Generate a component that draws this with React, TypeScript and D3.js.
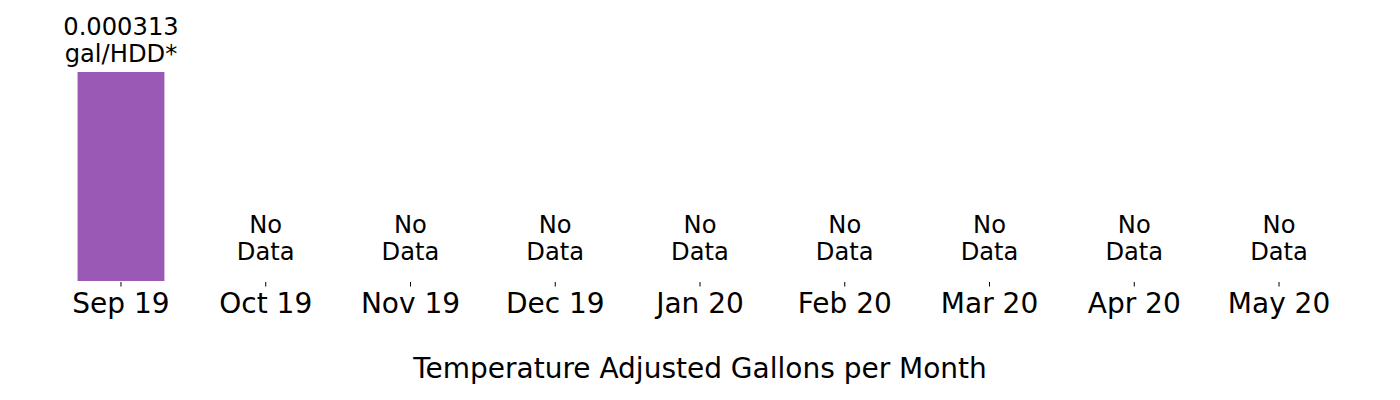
import { useRef, useEffect } from 'react'
import * as d3 from 'd3'

const MONTHS = ['Sep 19', 'Oct 19', 'Nov 19', 'Dec 19', 'Jan 20', 'Feb 20', 'Mar 20', 'Apr 20', 'May 20']
// null = no data for that month
const GALLONS_PER_HDD: (number | null)[] = [0.000313, null, null, null, null, null, null, null, null]
const UNIT = 'gal/HDD*'
const AXIS_TITLE = 'Temperature Adjusted Gallons per Month'

const BAR_COLOR = '#9b59b6'
const FONT = "'DejaVu Sans', sans-serif"

export default function App() {
  const svgRef = useRef<SVGSVGElement>(null)

  useEffect(() => {
    if (!svgRef.current) return
    const svg = d3.select(svgRef.current)
    svg.selectAll('*').remove()

    const width = 1400
    const height = 400

    const x = d3.scaleBand<string>()
      .domain(MONTHS)
      .range([48.6, 1351.4])
      .paddingInner(0.4)
      .paddingOuter(0.2)

    const maxVal = d3.max(GALLONS_PER_HDD, d => d ?? 0) ?? 1
    const y = d3.scaleLinear().domain([0, maxVal]).range([281, 72])

    const data = MONTHS.map((m, i) => ({ month: m, value: GALLONS_PER_HDD[i] }))

    // bars
    svg.selectAll('rect.bar')
      .data(data.filter(d => d.value != null))
      .join('rect')
      .attr('class', 'bar')
      .attr('x', d => x(d.month)!)
      .attr('width', x.bandwidth())
      .attr('y', d => y(d.value!))
      .attr('height', d => y(0) - y(d.value!))
      .attr('fill', BAR_COLOR)

    // value labels
    data.forEach(d => {
      const cx = x(d.month)! + x.bandwidth() / 2
      const lines = d.value != null ? [String(d.value), UNIT] : ['No', 'Data']
      const baseY = d.value != null ? y(d.value) - 10.5 : y(0) - 21
      const t = svg.append('text')
        .attr('text-anchor', 'middle')
        .style('font-family', FONT)
        .style('font-size', '24.2px')
        .style('fill', '#000')
      lines.forEach((ln, j) => {
        t.append('tspan')
          .attr('x', cx)
          .attr('y', baseY - (lines.length - 1 - j) * 27)
          .text(ln)
      })
    })

    // x axis
    const axis = svg.append('g')
      .attr('transform', `translate(0,${y(0) + 1})`)
      .call(d3.axisBottom(x).tickSize(4.5).tickPadding(7))
    axis.select('.domain').remove()
    axis.selectAll('line').attr('stroke', '#000').attr('stroke-width', 1)
    axis.selectAll('text')
      .style('font-family', FONT)
      .style('font-size', '28px')
      .attr('fill', '#000')

    // axis title
    svg.append('text')
      .attr('x', width / 2)
      .attr('y', 378)
      .attr('text-anchor', 'middle')
      .style('font-family', FONT)
      .style('font-size', '28px')
      .style('fill', '#000')
      .text(AXIS_TITLE)

    svg.attr('width', width).attr('height', height)
  }, [])

  return (
    <svg ref={svgRef} width={1400} height={400}
      style={{ position: 'absolute', left: 0, top: 0, background: '#fff' }} />
  )
}
